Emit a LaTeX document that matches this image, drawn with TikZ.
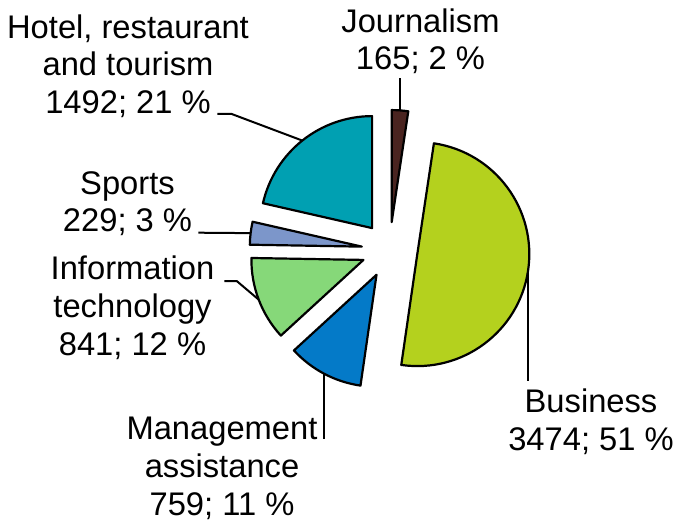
\documentclass[tikz,border=0pt]{standalone}
\usepackage{fontspec}
\setmainfont{Liberation Sans}
\usepackage{xcolor}
\usetikzlibrary{calc}

\definecolor{jourcol}{RGB}{74,36,32}
\definecolor{buscol}{RGB}{180,209,30}
\definecolor{mancol}{RGB}{4,122,200}
\definecolor{infcol}{RGB}{134,216,121}
\definecolor{spocol}{RGB}{124,150,202}
\definecolor{hotcol}{RGB}{0,160,178}

\begin{document}
\begin{tikzpicture}[x=1pt,y=1pt,
		slice/.style={draw=black, line width=2.2pt, line join=round},
		lead/.style={draw=black, line width=2pt},
		lab/.style={align=center, anchor=base, inner sep=0pt, font=\fontsize{32.7pt}{37.6pt}\selectfont}]
			\useasboundingbox (0,0) rectangle (675,523);
			%% centres of the slices
			\coordinate (c) at (389.6,273);
			\coordinate (cJour) at ($(c)+(85.73:28pt)$);
			\coordinate (cBus) at ($(c)+(-8.38:28pt)$);
			\coordinate (cMan) at ($(c)+(-117.86:28pt)$);
			\coordinate (cInf) at ($(c)+(-159.24:28pt)$);
			\coordinate (cSpo) at ($(c)+(-186.92:28pt)$);
			\coordinate (cHot) at ($(c)+(-231.42:28pt)$);
			%% slices
			\filldraw[slice, fill=jourcol] (cJour) -- ++(90:112pt) arc (90:81.47:112pt) -- cycle;
			\filldraw[slice, fill=buscol] (cBus) -- ++(81.47:112pt) arc (81.47:-98.23:112pt) -- cycle;
			\filldraw[slice, fill=mancol] (cMan) -- ++(-98.23:112pt) arc (-98.23:-137.49:112pt) -- cycle;
			\filldraw[slice, fill=infcol] (cInf) -- ++(-137.49:112pt) arc (-137.49:-180.99:112pt) -- cycle;
			\filldraw[slice, fill=spocol] (cSpo) -- ++(-180.99:112pt) arc (-180.99:-192.84:112pt) -- cycle;
			\filldraw[slice, fill=hotcol] (cHot) -- ++(-192.84:112pt) arc (-192.84:-270:112pt) -- cycle;
			%% points on the rims
			\coordinate (pJour) at ($(cJour)+(85.73:112pt)$);
			\coordinate (pBus) at ($(cBus)+(-8.38:112pt)$);
			\coordinate (pMan) at ($(cMan)+(-117.86:112pt)$);
			\coordinate (pInf) at ($(cInf)+(-159.24:112pt)$);
			\coordinate (pSpo) at ($(cSpo)+(-186.92:112pt)$);
			\coordinate (pHot) at ($(cHot)+(-231.42:112pt)$);
			%% labels (base = last line)
			\node[lab] (lJour) at (420.5,453) {Journalism\\165; 2 \%};
			\node[lab] (lBus) at (591,73) {Business\\3474; 51 \%};
			\node[lab] (lMan) at (222,8) {Management\\assistance\\759; 11 \%};
			\node[lab] (lInf) at (132.5,168) {Information\\technology\\841; 12 \%};
			\node[lab] (lSpo) at (127.5,291.3) {Sports\\229; 3 \%};
			\node[lab] (lHot) at (128,409.7) {Hotel, restaurant\\and tourism\\1492; 21 \%};
			%% ends of the leaders
			\coordinate (aJour) at ($(pJour |- lJour.south)+(0,-4pt)$);
			\coordinate (aBus) at ($(pBus |- lBus.north)+(0,8pt)$);
			\coordinate (aMan) at ($(pMan |- lMan.north)+(0,-22pt)$);
			\coordinate (aInf) at (224.3,242);
			\coordinate (bInf) at (236.7,242);
			\coordinate (aSpo) at (198.3,290.3);
			\coordinate (aHot) at (217.3,409);
			\coordinate (bHot) at (231.7,409);
			%% leaders
			\draw[lead] (aJour) -- (pJour);
			\draw[lead] (pBus) -- (aBus);
			\draw[lead] (pMan) -- (aMan);
			\draw[lead] (aInf) -- (bInf) -- (pInf);
			\draw[lead] (aSpo) -- (pSpo);
			\draw[lead] (aHot) -- (bHot) -- (pHot);
		\end{tikzpicture}
\end{document}
